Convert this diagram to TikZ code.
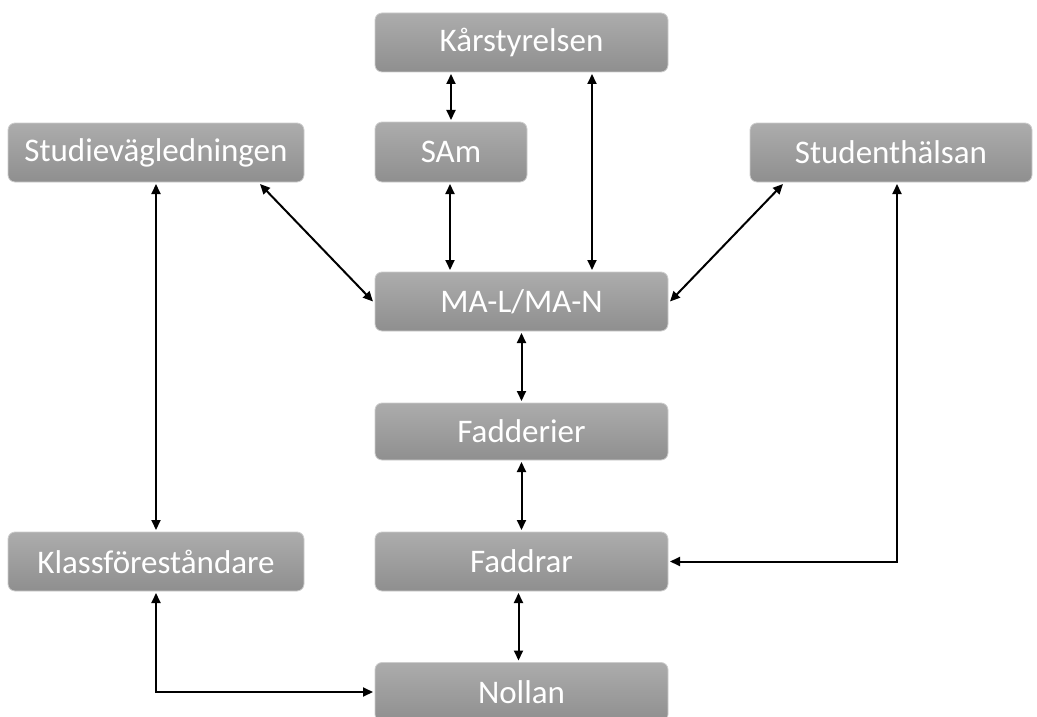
\documentclass[tikz,border=0pt]{standalone}
\usepackage{fontspec}
\setmainfont{Carlito}
\usetikzlibrary{arrows.meta}
\definecolor{boxtop}{RGB}{172,172,172}
\definecolor{boxbot}{RGB}{143,143,143}
\definecolor{boxline}{RGB}{205,205,205}
\begin{document}
\begin{tikzpicture}[x=1pt,y=-1pt,
  box/.style={rounded corners=7pt, top color=boxtop, bottom color=boxbot, draw=boxline, line width=0.8pt,
    text=white, font=\fontsize{33}{36}\selectfont, minimum height=59pt, inner sep=0pt, outer sep=2pt},
  link/.style={line width=2pt, {Triangle[length=10pt,width=9pt]}-{Triangle[length=10pt,width=9pt]}}]
\useasboundingbox (0,0) rectangle (1037,717);
\node[box, minimum width=293pt] (kar) at (521.5,42.5) {Kårstyrelsen};
\node[box, minimum width=152pt, minimum height=60pt] (sam) at (451,152) {SAm};
\node[box, minimum width=296pt] (stv) at (156,152.5) {Studievägledningen};
\node[box, minimum width=282pt] (sth) at (891,152.5) {Studenthälsan};
\node[box, minimum width=293pt] (ma) at (521.5,301.5) {MA-L/MA-N};
\node[box, minimum width=293pt, minimum height=57pt] (fadderier) at (521.5,431.5) {Fadderier};
\node[box, minimum width=296pt] (klass) at (156,561.5) {Klassföreståndare};
\node[box, minimum width=293pt] (faddrar) at (521.5,561.5) {Faddrar};
\node[box, minimum width=293pt] (nollan) at (521.5,692) {Nollan};

\draw[link] (sam.north) -- (sam.north |- kar.south);
\draw[link] ([xshift=70.5pt]kar.south) -- ([xshift=70.5pt]ma.north);
\draw[link] ([xshift=-1pt]sam.south) -- ([xshift=-1pt]sam.south |- ma.north);
\draw[link] ([xshift=-46pt]stv.south east) -- (ma.west);
\draw[link] ([xshift=35pt]sth.south west) -- (ma.east);
\draw[link] (ma.south) -- (fadderier.north);
\draw[link] (fadderier.south) -- (faddrar.north);
\draw[link] ([xshift=-3pt]faddrar.south) -- ([xshift=-3pt]nollan.north);
\draw[link] (stv.south) -- (klass.north);
\draw[link] (klass.south) |- (nollan.west);
\draw[link] ([xshift=6pt]sth.south) |- (faddrar.east);
\end{tikzpicture}
\end{document}
